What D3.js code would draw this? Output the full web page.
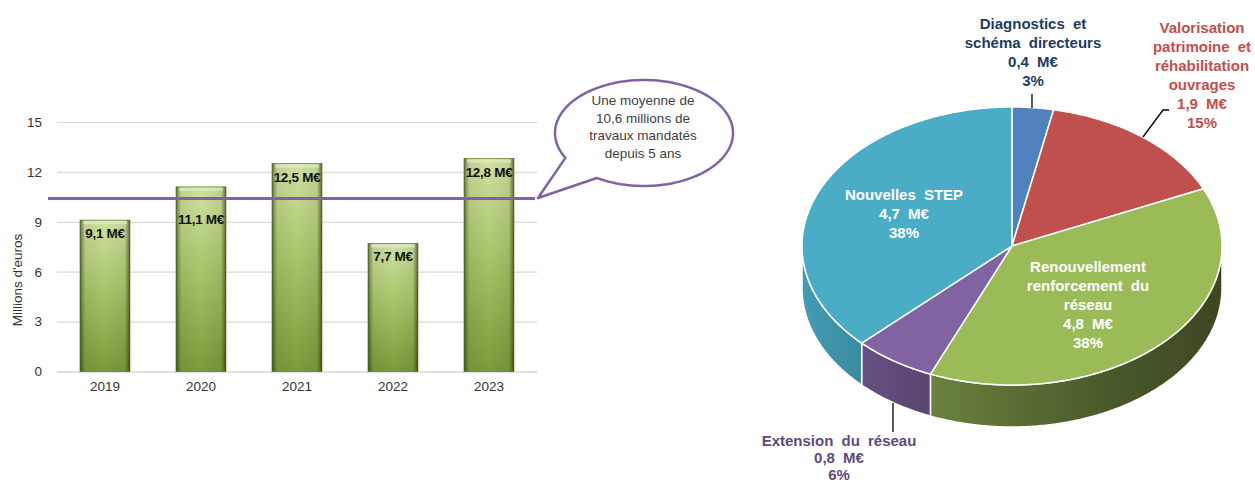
<!DOCTYPE html>
<html>
<head>
<meta charset="utf-8">
<script src="https://cdn.jsdelivr.net/npm/d3@7"></script>
<style>
  body { margin: 0; background: #fff; }
  svg { display: block; font-family: "Liberation Sans", Arial, sans-serif; }
</style>
</head>
<body>
<div id="chart"></div>
<script>
// ---- data ----
const years = ["2019", "2020", "2021", "2022", "2023"];
const amounts = [9.1, 11.1, 12.5, 7.7, 12.8];
const amountLabels = ["9,1 M€", "11,1 M€", "12,5 M€", "7,7 M€", "12,8 M€"];
const yTicks = [0, 3, 6, 9, 12, 15];
const averageValue = 10.4;
const calloutLines = ["Une moyenne de", "10,6 millions de", "travaux mandatés", "depuis 5 ans"];

const pieCategories = ["Diagnostics et schéma directeurs", "Valorisation patrimoine et réhabilitation ouvrages",
  "Renouvellement renforcement du réseau", "Extension du réseau", "Nouvelles STEP"];
const pieValues = [0.4, 1.9, 4.8, 0.8, 4.7];
const pieLabelLines = [
  ["Diagnostics et", "schéma directeurs", "0,4 M€", "3%"],
  ["Valorisation", "patrimoine et", "réhabilitation", "ouvrages", "1,9 M€", "15%"],
  ["Renouvellement", "renforcement du", "réseau", "4,8 M€", "38%"],
  ["Extension du réseau", "0,8 M€", "6%"],
  ["Nouvelles STEP", "4,7 M€", "38%"]
];
const pieColors = ["#4f81bd", "#c0504d", "#9bbb59", "#8064a2", "#4bacc6"];

// ---- layout ----
const width = 1255, height = 486;
const bar = { left: 57, right: 537, top: 122, bottom: 371.5 };
const pie = { cx: 1012, cy: 246, rx: 210, ry: 139, depth: 42 };
const labelLayout = [
  { x: 1033, y: 29, step: 19, fill: "#1f3b63", leader: [[1032, 94], [1032, 108]] },
  { x: 1202, y: 33, step: 19, fill: "#c0504d", leader: [[1143, 137], [1163, 110], [1169, 110]] },
  { x: 1088, y: 272, step: 19, fill: "#ffffff" },
  { x: 839, y: 446, step: 17, fill: "#604a7b", leader: [[893, 403], [893, 432]] },
  { x: 904, y: 200, step: 19, fill: "#ffffff" }
];

const svg = d3.select("#chart").append("svg")
  .attr("width", width).attr("height", height)
  .attr("viewBox", [0, 0, width, height]);
const defs = svg.append("defs");

// bar gradients
const gv = defs.append("linearGradient").attr("id", "barV").attr("x1", 0).attr("y1", 0).attr("x2", 0).attr("y2", 1);
gv.append("stop").attr("offset", 0).attr("stop-color", "#cfe2a2");
gv.append("stop").attr("offset", 0.45).attr("stop-color", "#a9c66a");
gv.append("stop").attr("offset", 1).attr("stop-color", "#7c9a3a");
const gh = defs.append("linearGradient").attr("id", "barH").attr("x1", 0).attr("y1", 0).attr("x2", 1).attr("y2", 0);
[[0, 0.6], [0.1, 0.08], [0.5, 0], [0.9, 0.08], [1, 0.65]].forEach(([o, a]) =>
  gh.append("stop").attr("offset", o).attr("stop-color", "#1f2a08").attr("stop-opacity", a));

// ---- bar chart ----
const x = d3.scaleBand().domain(years).range([bar.left, bar.right]).paddingInner(0.48).paddingOuter(0.24);
const y = d3.scaleLinear().domain([0, 15]).range([bar.bottom, bar.top]);

svg.append("g")
  .attr("transform", `translate(${bar.left},0)`)
  .call(d3.axisLeft(y).tickValues(yTicks).tickSize(-(bar.right - bar.left)).tickPadding(15))
  .call(g => g.select(".domain").remove())
  .call(g => g.selectAll(".tick line").attr("stroke", "#d9d9d9").attr("stroke-width", 1.2))
  .call(g => g.selectAll(".tick line").filter(d => d === 0).attr("stroke", "#bfbfbf"))
  .call(g => g.selectAll(".tick text").attr("fill", "#333").style("font-size", "13.5px")
    .style("font-family", "'Liberation Sans', Arial, sans-serif"));

svg.append("g")
  .attr("transform", `translate(0,${bar.bottom})`)
  .call(d3.axisBottom(x).tickSize(0).tickPadding(10))
  .call(g => g.select(".domain").remove())
  .call(g => g.selectAll(".tick text").attr("fill", "#333").style("font-size", "13.5px")
    .style("font-family", "'Liberation Sans', Arial, sans-serif"));

svg.append("text")
  .attr("transform", "translate(22,280) rotate(-90)")
  .attr("text-anchor", "middle")
  .attr("fill", "#333").style("font-size", "13.5px")
  .text("Millions d'euros");

const bars = svg.append("g").selectAll("g").data(years).join("g");
bars.append("rect")
  .attr("x", d => x(d)).attr("width", x.bandwidth())
  .attr("y", (d, i) => y(amounts[i])).attr("height", (d, i) => y(0) - y(amounts[i]))
  .attr("fill", "url(#barV)").attr("stroke", "#6f8a34").attr("stroke-width", 0.8);
bars.append("rect")
  .attr("x", d => x(d)).attr("width", x.bandwidth())
  .attr("y", (d, i) => y(amounts[i])).attr("height", (d, i) => y(0) - y(amounts[i]))
  .attr("fill", "url(#barH)");
bars.append("rect")
  .attr("x", d => x(d) + 3).attr("width", x.bandwidth() - 6)
  .attr("y", (d, i) => y(amounts[i]) + 1).attr("height", 3)
  .attr("fill", "#e6f0c8").attr("opacity", 0.6);

const avgY = y(averageValue);
bars.append("text")
  .attr("x", d => x(d) + x.bandwidth() / 2)
  .attr("y", (d, i) => {
    const top = y(amounts[i]);
    let base = top + 18;
    if (avgY > top && avgY < base + 2) base = avgY + 25;
    return base;
  })
  .attr("text-anchor", "middle")
  .attr("fill", "#111").style("font-size", "13.5px").style("font-weight", "bold")
  .attr("letter-spacing", "-0.3")
  .text((d, i) => amountLabels[i]);

svg.append("line")
  .attr("x1", bar.left - 9).attr("x2", bar.right - 2)
  .attr("y1", avgY).attr("y2", avgY)
  .attr("stroke", "#8064a2").attr("stroke-width", 3);

// callout bubble
const co = { cx: 644, cy: 133, rx: 89, ry: 53, tip: [538, 198], a0: 122, a1: 152 };
const ePt = a => [co.cx + co.rx * Math.cos(a * Math.PI / 180), co.cy + co.ry * Math.sin(a * Math.PI / 180)];
const bubblePts = [co.tip].concat(d3.range(co.a1, co.a0 + 360 + 0.1, 2).map(a => ePt(a)));
svg.append("path")
  .attr("d", d3.line()(bubblePts) + "Z")
  .attr("fill", "#fff").attr("stroke", "#8064a2").attr("stroke-width", 2.5)
  .attr("stroke-linejoin", "round");
svg.append("g").selectAll("text").data(calloutLines).join("text")
  .attr("x", 643).attr("y", (d, i) => 105 + i * 17.5)
  .attr("text-anchor", "middle").attr("fill", "#404040").style("font-size", "13.5px")
  .text(d => d);

// ---- 3D pie ----
const arcs = d3.pie().sort(null).value(d => d).startAngle(0).endAngle(2 * Math.PI)(pieValues);
const pt = (a, dz = 0) => [pie.cx + pie.rx * Math.sin(a), pie.cy - pie.ry * Math.cos(a) + dz];
const arcPts = (a0, a1, dz) => {
  const n = Math.max(2, Math.ceil((a1 - a0) / 0.01));
  return d3.range(n + 1).map(i => pt(a0 + (a1 - a0) * i / n, dz));
};

arcs.forEach((a, i) => {
  const g = defs.append("linearGradient").attr("id", "side" + i)
    .attr("gradientUnits", "userSpaceOnUse")
    .attr("x1", pie.cx - pie.rx).attr("x2", pie.cx + pie.rx).attr("y1", 0).attr("y2", 0);
  d3.range(0, 1.01, 0.25).forEach(f =>
    g.append("stop").attr("offset", f).attr("stop-color", d3.color(pieColors[i]).darker(0.3 + 2.4 * f)));
});

const sides = svg.append("g");
arcs.forEach((a, i) => {
  const s0 = Math.max(a.startAngle, Math.PI / 2), s1 = Math.min(a.endAngle, 3 * Math.PI / 2);
  if (s0 >= s1) return;
  const pts = arcPts(s0, s1, 0).concat(arcPts(s0, s1, pie.depth).reverse());
  sides.append("path").attr("d", d3.line()(pts) + "Z")
    .attr("fill", `url(#side${i})`).attr("stroke", "#fff").attr("stroke-width", 1.5)
    .attr("stroke-linejoin", "round");
});

svg.append("g").selectAll("path").data(arcs).join("path")
  .attr("d", a => d3.line()([[pie.cx, pie.cy]].concat(arcPts(a.startAngle, a.endAngle, 0))) + "Z")
  .attr("fill", (a, i) => pieColors[i])
  .attr("stroke", "#fff").attr("stroke-width", 1.5).attr("stroke-linejoin", "round");

// leaders
labelLayout.forEach(l => {
  if (l.leader) svg.append("path").attr("d", d3.line()(l.leader))
    .attr("fill", "none").attr("stroke", "#000").attr("stroke-width", 1.3);
});

// labels
const labels = svg.append("g").selectAll("text").data(pieLabelLines).join("text")
  .attr("text-anchor", "middle")
  .attr("fill", (d, i) => labelLayout[i].fill)
  .style("font-size", "15px").style("font-weight", "bold").attr("word-spacing", 4);
labels.selectAll("tspan").data((d, i) => d.map(t => ({ t, i }))).join("tspan")
  .attr("x", d => labelLayout[d.i].x)
  .attr("y", (d, j) => labelLayout[d.i].y + j * labelLayout[d.i].step)
  .text(d => d.t);
</script>
</body>
</html>
